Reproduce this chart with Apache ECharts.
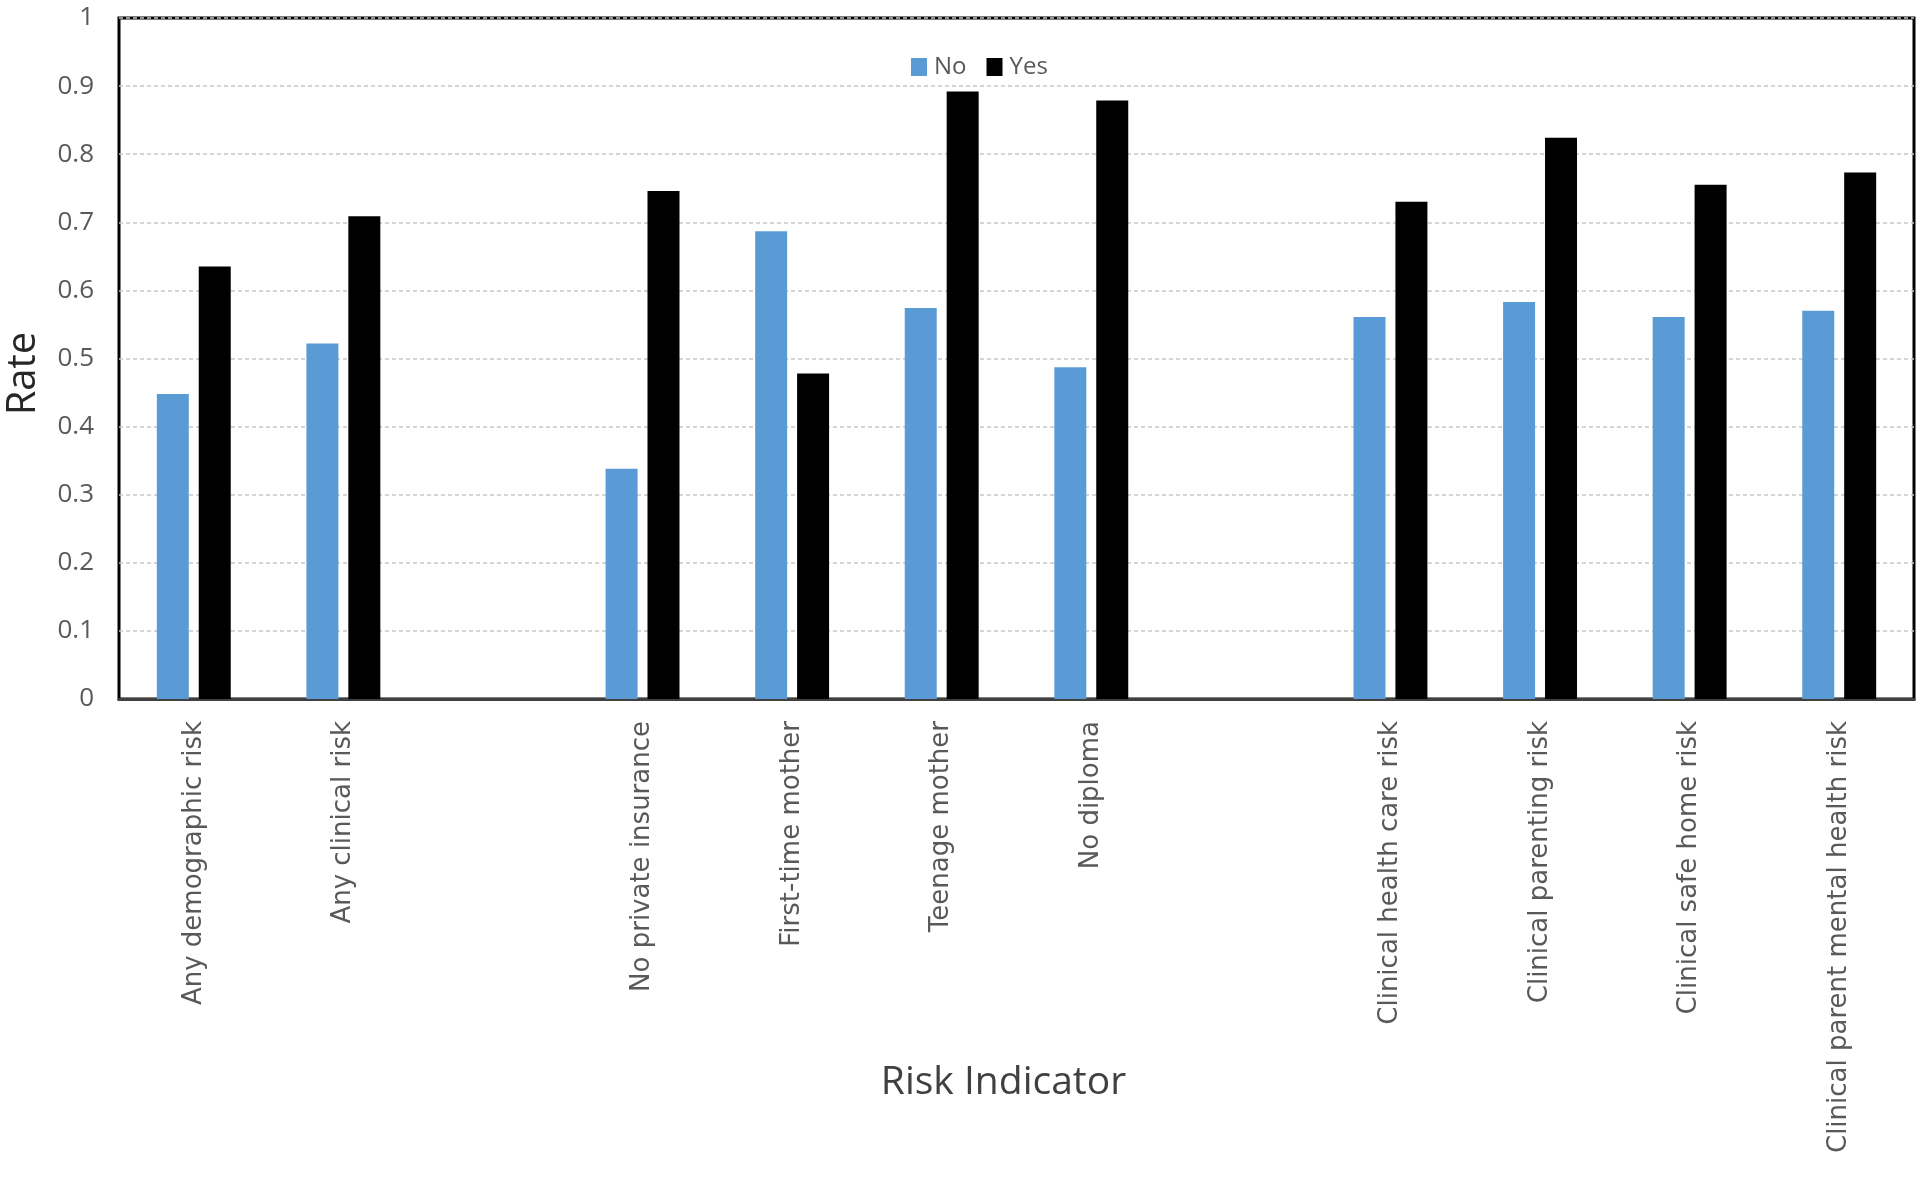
<!DOCTYPE html>
<html>
<head>
<meta charset="utf-8">
<script src="https://cdn.jsdelivr.net/npm/echarts@6/dist/echarts.min.js"></script>
<style>
html,body{margin:0;padding:0;background:#fff;}
#chart{width:1920px;height:1182px;}
</style>
</head>
<body>
<div id="chart"></div>
<script>
const categories = ['Any demographic risk', 'Any clinical risk', ' ', 'No private insurance', 'First-time mother', 'Teenage mother', 'No diploma', '  ', 'Clinical health care risk', 'Clinical parenting risk', 'Clinical safe home risk', 'Clinical parent mental health risk'];
const noValues  = [0.448, 0.522, null, 0.338, 0.687, 0.574, 0.487, null, 0.561, 0.583, 0.561, 0.570];
const yesValues = [0.635, 0.709, null, 0.746, 0.478, 0.892, 0.879, null, 0.730, 0.824, 0.755, 0.773];
const seriesNames = ['No', 'Yes'];
const yTicks = { min: 0, max: 1, interval: 0.1 };

const chart = echarts.init(document.getElementById('chart'), null, {renderer: 'canvas'});
chart.setOption({
  animation: false,
  backgroundColor: '#ffffff',
  grid: {
    left: 119, right: 6, top: 18, bottom: 483,
    outerBoundsMode: 'none',
    containLabel: false,
    show: true, borderColor: '#000000', borderWidth: 3, backgroundColor: 'transparent'
  },
  legend: {
    data: seriesNames,
    top: 50, left: 906,
    itemWidth: 16, itemHeight: 18, itemGap: 20,
    textStyle: { fontFamily: 'Open Sans', fontSize: 24, color: '#595959', padding: [0, 0, 0, 2] },
    icon: 'rect'
  },
  xAxis: {
    type: 'category',
    data: categories,
    name: 'Risk Indicator',
    nameLocation: 'middle',
    nameGap: 364,
    nameMoveOverlap: false,
    nameTextStyle: { fontFamily: 'Open Sans', fontSize: 39, color: '#404040', padding: [0, 26, 0, 0] },
    axisLine: { show: true, lineStyle: { color: '#404040', width: 3 } },
    axisTick: { show: false },
    axisLabel: {
      rotate: 90, margin: 22, interval: 0,
      fontFamily: 'DejaVu Sans', fontSize: 26, color: '#595959'
    },
    splitLine: { show: false }
  },
  yAxis: {
    type: 'value',
    min: yTicks.min, max: yTicks.max, interval: yTicks.interval,
    name: 'Rate',
    nameLocation: 'middle',
    nameRotate: 90,
    nameGap: 75,
    nameMoveOverlap: false,
    nameTextStyle: { fontFamily: 'Open Sans', fontSize: 40, color: '#262626', padding: [0, 30, 0, 0] },
    axisLine: { show: false },
    axisTick: { show: false },
    axisLabel: {
      margin: 25,
      fontFamily: 'Open Sans', fontSize: 26, color: '#595959',
      formatter: v => String(Math.round(v * 10) / 10)
    },
    splitLine: { show: true, lineStyle: { color: '#c8c8c8', width: 1.5, type: [4, 3] } }
  },
  series: [
    {
      name: seriesNames[0], type: 'bar', data: noValues,
      barWidth: 32, barGap: '31%',
      itemStyle: { color: '#5B9BD5' }
    },
    {
      name: seriesNames[1], type: 'bar', data: yesValues,
      barWidth: 32, barGap: '31%',
      itemStyle: { color: '#000000' }
    }
  ]
});
</script>
</body>
</html>
